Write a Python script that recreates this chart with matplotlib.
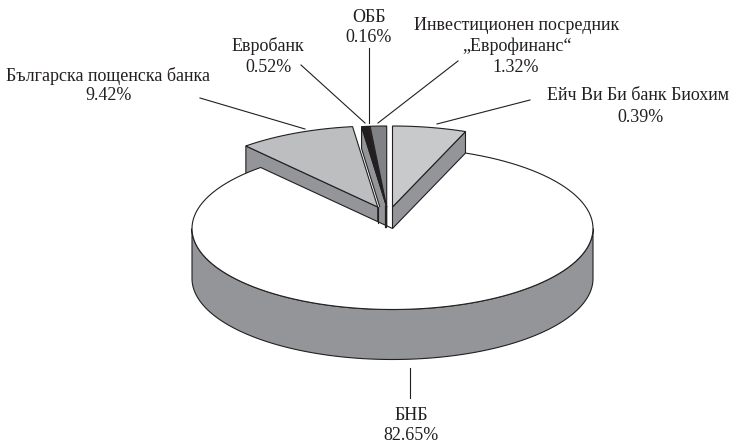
import numpy as np
import matplotlib
matplotlib.use("Agg")
import matplotlib.pyplot as plt
from matplotlib.patches import Polygon

# clockwise from 12 o'clock
names = ["Ейч Ви Би банк Биохим", "БНБ", "Българска пощенска банка", "Евробанк", "ОББ",
         "Инвестиционен посредник\n„Еврофинанс“"]
# wedge sizes as drawn; the first wedge is far wider than its printed 0.39%
shares = [5.93, 82.65, 9.42, 0.52, 0.16, 1.32]
printed = ["0.39%", "82.65%", "9.42%", "0.52%", "0.16%", "1.32%"]

# layout, in pixels of the 731x445 picture
CX, CY = 392.5, 228.5
RX, RY = 200.5, 81.0
colors = ["#c8c9cb", "#ffffff", "#bcbec0", "#231f20", "#2c2829", "#808285"]
offsets = [(0, -21.5), (0, 0), (-14.8, -21.5), (-5.8, -21.5), (-5.8, -21.5), (-5.8, -21.5)]
depths = [50, 50, 50, 22, 22, 22]
walled = [True, False, True, True, False, False]
WALL = "#939598"
EDGE = "#231f20"
label_pos = [(638, 96), (411, 415), (108, 76), (268, 46), (369, 18), (517, 36)]
pct_pos = [(641, 117), (411, 436), (109, 96), (268, 67), (369, 37), (516, 67)]
leaders = [((530, 100), (437, 124)), ((410, 368), (410, 398)), ((200, 98), (305, 129)),
           ((301, 65), (365, 123)), ((369, 48), (369, 123)), ((458, 61), (378, 123))]


def arc(start, stop, ox=0.0, oy=0.0, n=120):
    t = np.radians(np.linspace(start, stop, n))
    return np.column_stack([CX + ox + RX * np.cos(t), CY + oy - RY * np.sin(t)])


def extrude(pts, depth):
    return np.vstack([pts, pts[::-1] + [0, depth]])


fig = plt.figure(figsize=(7.31, 4.45), dpi=100)
ax = fig.add_axes([0, 0, 1, 1])
ax.set_xlim(0, 731)
ax.set_ylim(445, 0)
ax.axis("off")

sweeps = np.array(shares) / sum(shares) * 360
stops = 90 - np.cumsum(sweeps)
starts = stops + sweeps
LINE = dict(edgecolor=EDGE, linewidth=0.8, joinstyle="miter")

tops = []
for i in [0, 2, 3, 4, 5]:
    ox, oy = offsets[i]
    tip = np.array([[CX + ox, CY + oy]])
    rim = arc(starts[i], stops[i], ox, oy)
    # radial walls that face the viewer
    if walled[i] and np.cos(np.radians(stops[i])) > 0.01:
        ax.add_patch(Polygon(extrude(np.vstack([tip, rim[-1:]]), depths[i]), facecolor=WALL, **LINE))
    if walled[i] and np.cos(np.radians(starts[i])) < -0.01:
        ax.add_patch(Polygon(extrude(np.vstack([tip, rim[:1]]), depths[i]), facecolor=WALL, **LINE))
    tops.append(Polygon(np.vstack([tip, rim]), facecolor=colors[i], **LINE))

# bit of core showing between the pulled-out wedges
core = np.array([[CX + offsets[2][0], CY + offsets[2][1]], [CX + offsets[3][0], CY + offsets[3][1]]])
ax.add_patch(Polygon(extrude(core, 24), facecolor=WALL, edgecolor="none"))
ax.plot([core[0, 0]] * 2, [core[0, 1], core[0, 1] + 16], color=EDGE, lw=0.8)
ax.plot([core[1, 0] - 0.8] * 2, [core[1, 1], core[1, 1] + 20], color=EDGE, lw=1.6)

for p in tops:
    ax.add_patch(p)

# main wedge goes last, it hides the lower part of the others
ax.add_patch(Polygon(extrude(arc(180, 360), 50), facecolor=WALL, **LINE))
rim = arc(starts[1], stops[1])
ax.add_patch(Polygon(np.vstack([[[CX, CY]], rim]), facecolor=colors[1], **LINE))

for name, pct, lp, pp, (a, b) in zip(names, printed, label_pos, pct_pos, leaders):
    ax.plot([a[0], b[0]], [a[1], b[1]], color=EDGE, lw=0.8)
    ax.text(lp[0], lp[1], name, ha="center", va="center", family="Liberation Serif",
            fontsize=13, color=EDGE, linespacing=1.2)
    ax.text(pp[0], pp[1], pct, ha="center", va="center", family="Liberation Serif",
            fontsize=13, color=EDGE)

fig.savefig("out.png", dpi=100)
